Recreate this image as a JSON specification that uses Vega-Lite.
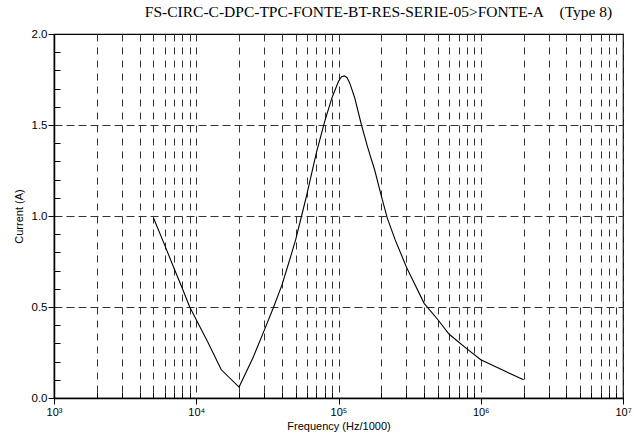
{
  "$schema": "https://vega.github.io/schema/vega-lite/v6.json",
  "width": 569,
  "height": 364,
  "autosize": "none",
  "padding": {"left": 54, "top": 34, "right": 11, "bottom": 38},
  "background": "white",
  "title": {
    "text": "FS-CIRC-C-DPC-TPC-FONTE-BT-RES-SERIE-05>FONTE-A\u00a0\u00a0\u00a0\u00a0(Type 8)",
    "font": "Liberation Serif",
    "fontSize": 15.5,
    "fontWeight": "normal",
    "color": "#000",
    "anchor": "middle",
    "dx": 40,
    "offset": 8
  },
  "config": {
    "view": {"stroke": "#000", "strokeWidth": 1.2},
    "axis": {
      "domainColor": "#000",
      "domainWidth": 1.5,
      "tickColor": "#000",
      "tickWidth": 1,
      "gridColor": "#333",
      "gridWidth": 1,
      "labelFont": "Liberation Sans",
      "labelFontSize": 11,
      "labelColor": "#000",
      "titleFont": "Liberation Sans",
      "titleFontSize": 11,
      "titleFontWeight": "normal",
      "titleColor": "#000"
    }
  },
  "data": {
    "values": [
      {"f": 5000, "I": 0.99},
      {"f": 6000, "I": 0.84},
      {"f": 7000, "I": 0.71},
      {"f": 8000, "I": 0.6},
      {"f": 9000, "I": 0.5},
      {"f": 10000, "I": 0.43},
      {"f": 12000, "I": 0.31},
      {"f": 15000, "I": 0.155},
      {"f": 20000, "I": 0.06},
      {"f": 25000, "I": 0.22},
      {"f": 30000, "I": 0.37},
      {"f": 35000, "I": 0.5},
      {"f": 40000, "I": 0.62},
      {"f": 45000, "I": 0.75},
      {"f": 50000, "I": 0.87},
      {"f": 55000, "I": 1.0},
      {"f": 60000, "I": 1.12},
      {"f": 65000, "I": 1.24},
      {"f": 70000, "I": 1.35},
      {"f": 80000, "I": 1.52},
      {"f": 90000, "I": 1.65},
      {"f": 100000, "I": 1.74},
      {"f": 105000, "I": 1.765},
      {"f": 110000, "I": 1.77},
      {"f": 115000, "I": 1.76},
      {"f": 120000, "I": 1.73},
      {"f": 130000, "I": 1.65},
      {"f": 145000, "I": 1.5},
      {"f": 160000, "I": 1.38},
      {"f": 180000, "I": 1.25},
      {"f": 200000, "I": 1.11},
      {"f": 220000, "I": 0.99},
      {"f": 250000, "I": 0.87},
      {"f": 300000, "I": 0.72},
      {"f": 400000, "I": 0.52},
      {"f": 500000, "I": 0.43},
      {"f": 600000, "I": 0.35},
      {"f": 800000, "I": 0.27},
      {"f": 1000000, "I": 0.21},
      {"f": 1500000, "I": 0.145},
      {"f": 2000000, "I": 0.1}
    ]
  },
  "mark": {"type": "line", "color": "#000", "strokeWidth": 1.1, "clip": true},
  "encoding": {
    "x": {
      "field": "f",
      "type": "quantitative",
      "scale": {"type": "log", "domain": [1000, 10000000], "nice": false},
      "axis": {
        "title": "Frequency (Hz/1000)",
        "titlePadding": 3,
        "values": [1000, 2000, 3000, 4000, 5000, 6000, 7000, 8000, 9000,
                   10000, 20000, 30000, 40000, 50000, 60000, 70000, 80000, 90000,
                   100000, 200000, 300000, 400000, 500000, 600000, 700000, 800000, 900000,
                   1000000, 2000000, 3000000, 4000000, 5000000, 6000000, 7000000, 8000000, 9000000,
                   10000000],
        "labelExpr": "abs(log(datum.value)/LN10 - round(log(datum.value)/LN10)) < 0.001 ? '10' + ['³','⁴','⁵','⁶','⁷'][round(log(datum.value)/LN10) - 3] : ''",
        "labelPadding": 2,
        "labelFlush": false,
        "labelOverlap": false,
        "tickSize": {"condition": {"test": "abs(log(datum.value)/LN10 - round(log(datum.value)/LN10)) < 0.001", "value": 6}, "value": -6},
        "grid": true,
        "gridDash": [7, 6]
      }
    },
    "y": {
      "field": "I",
      "type": "quantitative",
      "scale": {"domain": [0, 2], "nice": false, "zero": true},
      "axis": {
        "title": "Current (A)",
        "titlePadding": 7,
        "values": [0, 0.1, 0.2, 0.3, 0.4, 0.5, 0.6, 0.7, 0.8, 0.9, 1.0,
                   1.1, 1.2, 1.3, 1.4, 1.5, 1.6, 1.7, 1.8, 1.9, 2.0],
        "labelExpr": "abs(datum.value*2 - round(datum.value*2)) < 0.001 ? format(datum.value, '.1f') : ''",
        "labelFontSize": 11.5,
        "labelPadding": 1,
        "labelOverlap": false,
        "labelFlush": false,
        "tickSize": {"condition": {"test": "abs(datum.value*2 - round(datum.value*2)) < 0.001", "value": 6}, "value": -6},
        "grid": true,
        "gridDash": [8, 4],
        "gridOpacity": {"condition": {"test": "abs(datum.value*2 - round(datum.value*2)) < 0.001 && datum.value > 0.01 && datum.value < 1.99", "value": 1}, "value": 0}
      }
    }
  }
}
